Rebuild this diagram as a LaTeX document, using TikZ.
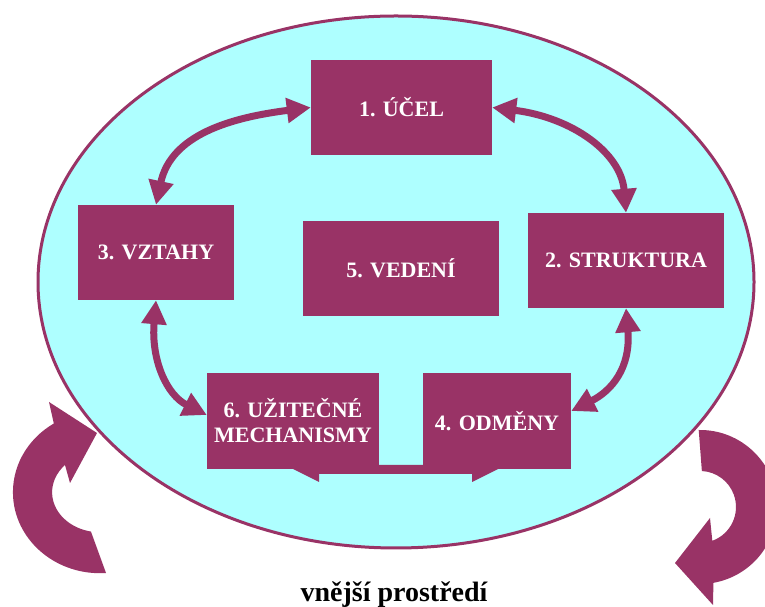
\documentclass[tikz,border=0pt]{standalone}
\usepackage{fontspec}
\setmainfont{Liberation Serif}
\usetikzlibrary{arrows.meta}
\definecolor{plum}{HTML}{993366}
\definecolor{aqua}{HTML}{AEFFFF}
\begin{document}
\begin{tikzpicture}[x=1pt,y=1pt,
  stage/.style={fill=plum, draw=none, text=white, inner sep=0pt,
    font=\fontsize{22}{25}\selectfont\bfseries, minimum height=95pt, align=center},
  link/.style={draw=plum, line width=7pt,
    {Triangle[length=24pt,width=24pt]}-{Triangle[length=24pt,width=24pt]}},
  turn/.style={fill=plum}]
\clip (0,0) rectangle (765,607);
\fill[white] (0,0) rectangle (765,607);

% the surrounding organisation
\draw[plum, line width=3pt, fill=aqua] (396,325) ellipse [x radius=358, y radius=266];

% the six areas
\node[stage, minimum width=181pt] (b1) at (401.5,499.5) {1. ÚČEL};
\node[stage, minimum width=196pt] (b2) at (626,346.5) {2. STRUKTURA};
\node[stage, minimum width=156pt] (b3) at (156,354.5) {3. VZTAHY};
\node[stage, minimum width=148pt, minimum height=96pt] (b4) at (497,186) {4. ODMĚNY};
\node[stage, minimum width=196pt] (b5) at (401,338.5) {5. VEDENÍ};
\node[stage, minimum width=172pt, minimum height=96pt] (b6) at (293,186) {6. UŽITEČNÉ\\MECHANISMY};

% band joining boxes 6 and 4, with the two small tails
\fill[plum] (293,138) -- (319,125) -- (319,133) -- (472,133) -- (472,125) -- (498,138)
  -- (b4.south west) -- (423,142) -- (379,142) -- (b6.south east) -- cycle;

% two-way links
\draw[link] (b1.west) .. controls +(-80,-10) and +(15,70) .. (b3.north);
\draw[link] (b1.east) .. controls +(80,-10) and +(-5,60) .. (b2.north);
\draw[link] (b3.south) .. controls +(-5,-60) and +(-40,20) .. ([yshift=6pt]b6.west);
\draw[link] (b2.south) .. controls +(5,-60) and +(40,20) .. ([yshift=10pt]b4.east);

% circular arrows of the environment
\fill[turn] (106,34) arc[start angle=274, end angle=122, x radius=87, y radius=81]
  -- (49,205) -- (97,174) -- (70,124) -- (65,142)
  arc[start angle=137, end angle=259, x radius=48, y radius=40] -- cycle;
\fill[turn] (698.7,177) arc[start angle=91, end angle=-80, radius=77]
  -- (713,2) -- (675,44) -- (710,89) -- (712.3,66.2)
  arc[start angle=-70, end angle=87, radius=36] -- cycle;

\node[font=\fontsize{28}{32}\selectfont\bfseries, anchor=base, inner sep=0pt] (env) at (394,5) {vnější prostředí};
\end{tikzpicture}
\end{document}
